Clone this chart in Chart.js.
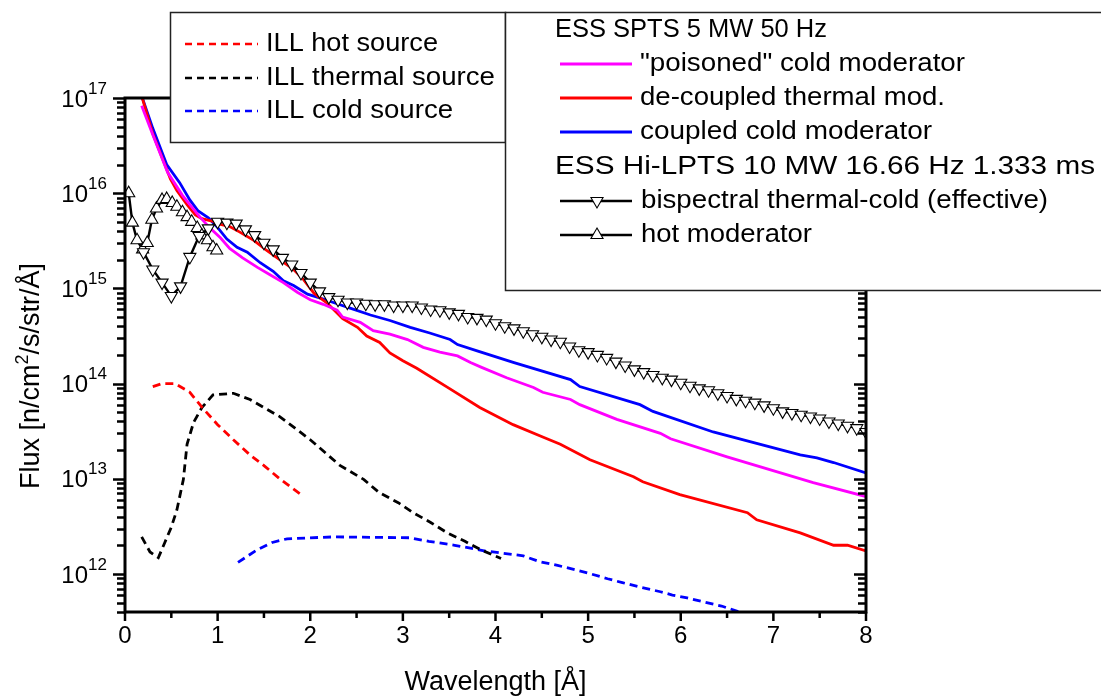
<!DOCTYPE html>
<html><head><meta charset="utf-8">
<script src="https://cdn.jsdelivr.net/npm/chart.js@4.4.1/dist/chart.umd.min.js"></script>
<style>html,body{margin:0;padding:0;background:#fff;}canvas{display:block;}</style>
</head><body>
<canvas id="c" width="1101" height="700"></canvas>
<script>
// ---------------- DATA ----------------
const xTickLabels = [0,1,2,3,4,5,6,7,8];
const yDecades = [12,13,14,15,16,17];

const poisonedX = [0.18,0.30,0.46,0.62,0.72,0.81,0.92,1.03,1.13,1.27,1.43,1.57,1.71,1.86,2.00,2.14,2.29,2.35,2.54,2.68,2.86,3.05,3.22,3.40,3.59,3.73,3.85,4.12,4.41,4.51,4.81,4.91,5.31,5.78,5.89,6.50,7.43,8.00];
const poisonedFlux = [8.3e16,4.1e16,1.66e16,9.5e15,7.2e15,5.6e15,4.27e15,3.4e15,2.63e15,2.09e15,1.66e15,1.38e15,1.15e15,9.1e14,7.6e14,6.8e14,5.9e14,5.0e14,4.4e14,3.6e14,3.3e14,2.9e14,2.4e14,2.14e14,1.95e14,1.66e14,1.48e14,1.15e14,9.1e13,8.1e13,6.8e13,6.0e13,4.2e13,3.0e13,2.63e13,1.7e13,9.1e12,6.5e12];

const decoupledX = [0.18,0.30,0.49,0.56,0.67,0.76,0.83,0.94,1.03,1.13,1.24,1.39,1.53,1.67,1.82,1.93,2.04,2.19,2.35,2.51,2.61,2.75,2.86,3.00,3.15,3.50,3.83,4.19,4.51,4.70,5.02,5.49,5.59,5.99,6.72,6.82,7.29,7.65,7.80,8.00];
const decoupledFlux = [1.05e17,4.2e16,1.41e16,1.07e16,7.6e15,5.9e15,5.4e15,5.1e15,4.7e15,4.47e15,3.9e15,3.2e15,2.5e15,2.0e15,1.58e15,1.23e15,8.9e14,6.9e14,4.8e14,3.9e14,3.16e14,2.7e14,2.1e14,1.74e14,1.45e14,8.9e13,5.6e13,3.7e13,2.75e13,2.3e13,1.58e13,1.05e13,9.3e12,6.8e12,4.4e12,3.7e12,2.7e12,2.0e12,2.0e12,1.74e12];

const coupledX = [0.18,0.30,0.45,0.59,0.70,0.79,0.90,0.99,1.10,1.21,1.32,1.46,1.60,1.71,1.82,1.97,2.11,2.29,2.43,2.65,2.86,3.08,3.29,3.51,3.59,3.81,4.20,4.81,4.91,5.56,5.70,6.35,6.86,7.29,7.47,7.65,8.00];
const coupledFlux = [1.05e17,4.8e16,2.0e16,1.29e16,8.5e15,6.5e15,5.5e15,4.47e15,3.3e15,2.7e15,2.4e15,1.86e15,1.51e15,1.2e15,1.07e15,8.7e14,7.9e14,6.9e14,6.2e14,5.25e14,4.6e14,3.9e14,3.4e14,2.9e14,2.57e14,2.19e14,1.66e14,1.10e14,9.3e13,6.0e13,5.1e13,3.1e13,2.3e13,1.78e13,1.66e13,1.48e13,1.15e13];

const bispectralX = [0.2,0.3,0.4,0.5,0.6,0.7,0.8,0.9,1.0,1.1,1.2,1.3,1.4,1.5,1.6,1.7,1.8,1.9,2.0,2.1,2.2,2.3,2.4,2.5,2.6,2.7,2.8,2.9,3.0,3.1,3.2,3.3,3.4,3.5,3.6,3.7,3.8,3.9,4.0,4.1,4.2,4.3,4.4,4.5,4.6,4.7,4.8,4.9,5.0,5.1,5.2,5.3,5.4,5.5,5.6,5.7,5.8,5.9,6.0,6.1,6.2,6.3,6.4,6.5,6.6,6.7,6.8,6.9,7.0,7.1,7.2,7.3,7.4,7.5,7.6,7.7,7.8,7.9,8.0];
const bispectralFlux = [2.40e15,1.58e15,1.15e15,8.3e14,1.05e15,2.14e15,3.55e15,4.27e15,5.01e15,4.90e15,
 4.79e15,4.17e15,3.63e15,3.02e15,2.57e15,2.09e15,1.78e15,1.45e15,1.15e15,9.3e14,
 8.1e14,7.6e14,7.1e14,7.1e14,6.9e14,6.8e14,6.8e14,6.6e14,6.6e14,6.6e14,
 6.3e14,6.0e14,5.9e14,5.6e14,5.4e14,5.0e14,4.9e14,4.7e14,4.3e14,4.0e14,
 3.8e14,3.55e14,3.3e14,3.1e14,2.9e14,2.75e14,2.45e14,2.24e14,2.14e14,2.0e14,
 1.86e14,1.7e14,1.55e14,1.41e14,1.32e14,1.23e14,1.15e14,1.10e14,1.02e14,9.5e13,
 8.9e13,8.5e13,7.9e13,7.4e13,6.9e13,6.6e13,6.3e13,5.9e13,5.5e13,5.1e13,
 4.9e13,4.7e13,4.5e13,4.3e13,4.0e13,3.8e13,3.6e13,3.4e13,3.1e13];

const hotModX = [0.04,0.08,0.13,0.19,0.24,0.29,0.34,0.40,0.45,0.51,0.56,0.62,0.67,0.72,0.78,0.83,0.89,0.95,0.99];
const hotModFlux = [1.0e16,4.9e15,3.2e15,2.57e15,3.0e15,5.25e15,6.9e15,8.5e15,8.7e15,7.9e15,7.2e15,6.3e15,5.6e15,5.0e15,4.3e15,3.6e15,3.2e15,2.7e15,2.5e15];

const illHotX = [0.30,0.40,0.54,0.70,0.84,1.00,1.17,1.35,1.51,1.67,1.90];
const illHotFlux = [9.3e13,1.0e14,1.0e14,8.1e13,5.5e13,3.7e13,2.57e13,1.78e13,1.35e13,1.0e13,6.8e12];

const illThermalX = [0.18,0.27,0.36,0.43,0.50,0.56,0.63,0.67,0.74,0.83,0.95,1.17,1.35,1.67,2.00,2.32,2.58,2.74,2.95,3.11,3.30,3.48,3.67,3.85,4.06];
const illThermalFlux = [2.45e12,1.7e12,1.48e12,2.14e12,3.1e12,4.7e12,9.8e12,2.3e13,3.9e13,5.6e13,7.6e13,7.9e13,6.8e13,4.5e13,2.57e13,1.38e13,9.8e12,7.2e12,5.6e12,4.4e12,3.47e12,2.7e12,2.2e12,1.78e12,1.45e12];

const illColdX = [1.22,1.42,1.59,1.75,2.25,3.07,3.28,3.56,3.89,4.30,4.47,4.67,5.00,5.21,5.37,5.58,5.78,5.91,6.07,6.28,6.44,6.63];
const illColdFlux = [1.32e12,1.78e12,2.14e12,2.34e12,2.45e12,2.4e12,2.2e12,2.0e12,1.74e12,1.55e12,1.35e12,1.23e12,1.02e12,8.9e11,8.1e11,7.2e11,6.5e11,6.0e11,5.6e11,5.0e11,4.6e11,4.0e11];

// ---------------- CHART ----------------
const FONT = "'Liberation Sans', Arial, sans-serif";
const zip = (xs, ys) => xs.map((x, i) => ({x, y: ys[i]}));

function lineDs(label, xs, ys, color, dash) {
  return { label, data: zip(xs, ys), borderColor: color, borderWidth: 2.8,
    borderDash: dash || [], pointRadius: 0, fill: false, tension: 0 };
}
function markDs(label, xs, ys, rot) {
  return { label, data: zip(xs, ys), borderColor: '#000', borderWidth: 2.4,
    pointStyle: 'triangle', pointRotation: rot, pointRadius: 7,
    pointBackgroundColor: '#fff', pointBorderColor: '#000', pointBorderWidth: 1.1,
    fill: false, tension: 0 };
}

const datasets = [
  markDs('bispectral thermal-cold (effective)', bispectralX, bispectralFlux, 180),
  markDs('hot moderator', hotModX, hotModFlux, 0),
  lineDs('"poisoned" cold moderator', poisonedX, poisonedFlux, '#ff00ff'),
  lineDs('de-coupled thermal mod.', decoupledX, decoupledFlux, '#ff0000'),
  lineDs('coupled cold moderator', coupledX, coupledFlux, '#0000ff'),
  lineDs('ILL hot source', illHotX, illHotFlux, '#ff0000', [8,5]),
  lineDs('ILL thermal source', illThermalX, illThermalFlux, '#000000', [8,5]),
  lineDs('ILL cold source', illColdX, illColdFlux, '#0000ff', [8,5])
];

function drawStretched(ctx, str, x, y, size, width) {
  ctx.font = size + 'px ' + FONT;
  const w = ctx.measureText(str).width;
  ctx.save();
  ctx.translate(x, y);
  ctx.scale(width ? width / w : 1, 1);
  ctx.textAlign = 'left';
  ctx.textBaseline = 'middle';
  ctx.fillStyle = '#000';
  ctx.fillText(str, 0, 0);
  ctx.restore();
}

function triangle(ctx, cx, cy, r, down) {
  ctx.save();
  ctx.translate(cx, cy);
  if (down) ctx.rotate(Math.PI);
  ctx.beginPath();
  ctx.moveTo(0, -r);
  ctx.lineTo(r * 0.866, r * 0.5);
  ctx.lineTo(-r * 0.866, r * 0.5);
  ctx.closePath();
  ctx.fillStyle = '#fff';
  ctx.fill();
  ctx.lineWidth = 1.1;
  ctx.strokeStyle = '#000';
  ctx.stroke();
  ctx.restore();
}

const framePlugin = {
  id: 'frame',
  afterDatasetsDraw(chart) {
    const {ctx, chartArea: a, scales: {x, y}} = chart;
    ctx.save();
    ctx.strokeStyle = '#000';
    ctx.lineWidth = 3;
    ctx.strokeRect(a.left, a.top, a.right - a.left, a.bottom - a.top);
    ctx.lineWidth = 2.5;
    ctx.beginPath();
    xTickLabels.forEach((v, i) => {
      const px = x.getPixelForValue(v);
      ctx.moveTo(px, a.bottom); ctx.lineTo(px, a.bottom + 9);
      if (i < xTickLabels.length - 1) {
        const pm = x.getPixelForValue(v + 0.5);
        ctx.moveTo(pm, a.bottom); ctx.lineTo(pm, a.bottom + 6);
      }
    });
    const decs = [yDecades[0] - 1].concat(yDecades);
    decs.forEach(p => {
      for (let k = 1; k <= 9; k++) {
        const v = k * Math.pow(10, p);
        if (v < y.min * 0.999 || v > y.max * 1.001) continue;
        const py = Math.round(y.getPixelForValue(v)) + 0.5;
        const len = k === 1 ? 12 : 8;
        ctx.moveTo(a.left - len, py); ctx.lineTo(a.left, py);
        ctx.moveTo(a.right - len, py); ctx.lineTo(a.right, py);
      }
    });
    ctx.stroke();
    // y tick labels 10^n
    ctx.fillStyle = '#000';
    yDecades.forEach(p => {
      const py = y.getPixelForValue(Math.pow(10, p));
      ctx.font = '24px ' + FONT;
      ctx.textAlign = 'right';
      ctx.textBaseline = 'middle';
      ctx.fillText('10', a.left - 37, py + 2);
      ctx.font = '17px ' + FONT;
      ctx.textAlign = 'left';
      ctx.fillText(String(p), a.left - 37, py - 9);
    });
    // y axis title with superscript
    ctx.save();
    ctx.translate(32, 376);
    ctx.rotate(-Math.PI / 2);
    ctx.textBaseline = 'middle';
    ctx.textAlign = 'left';
    const p1 = 'Flux [n/cm', p2 = '2', p3 = '/s/str/Å]';
    ctx.font = '27px ' + FONT; const w1 = ctx.measureText(p1).width; const w3 = ctx.measureText(p3).width;
    ctx.font = '18px ' + FONT; const w2 = ctx.measureText(p2).width;
    let sx = -(w1 + w2 + w3) / 2;
    ctx.font = '27px ' + FONT; ctx.fillText(p1, sx, 0); sx += w1;
    ctx.font = '18px ' + FONT; ctx.fillText(p2, sx, -9); sx += w2;
    ctx.font = '27px ' + FONT; ctx.fillText(p3, sx, 0);
    ctx.restore();
    ctx.restore();
  },
  afterDraw(chart) {
    const ctx = chart.ctx;
    ctx.save();
    // box 1
    ctx.fillStyle = '#fff';
    ctx.fillRect(170, 12, 335, 130);
    ctx.strokeStyle = '#222';
    ctx.lineWidth = 1.5;
    ctx.strokeRect(170.5, 12.5, 335, 130);
    // box 2
    ctx.fillStyle = '#fff';
    ctx.fillRect(505, 12, 600, 278);
    ctx.strokeRect(505.5, 12.5, 600, 278);
    // ILL entries
    const ill = [[datasets[5], 44, 172], [datasets[6], 78, 229], [datasets[7], 111, 187]];
    ill.forEach(([ds, yy, tw]) => {
      ctx.save();
      ctx.strokeStyle = ds.borderColor; ctx.lineWidth = 2.5; ctx.setLineDash([7,5]);
      ctx.beginPath(); ctx.moveTo(185, yy); ctx.lineTo(258, yy); ctx.stroke();
      ctx.restore();
      drawStretched(ctx, ds.label, 266, yy, 26, tw);
    });
    // ESS entries
    drawStretched(ctx, 'ESS SPTS 5 MW 50 Hz', 555, 30, 26, 272);
    const ess = [[datasets[2], 64, 325], [datasets[3], 98, 305], [datasets[4], 132, 292]];
    ess.forEach(([ds, yy, tw]) => {
      ctx.save();
      ctx.strokeStyle = ds.borderColor; ctx.lineWidth = 2.8;
      ctx.beginPath(); ctx.moveTo(560, yy); ctx.lineTo(632, yy); ctx.stroke();
      ctx.restore();
      drawStretched(ctx, ds.label, 640, yy, 26, tw);
    });
    drawStretched(ctx, 'ESS Hi-LPTS 10 MW 16.66 Hz 1.333 ms', 555, 167, 26, 540);
    const mk = [[datasets[0], 201, 407, true], [datasets[1], 235, 171, false]];
    mk.forEach(([ds, yy, tw, down]) => {
      ctx.save();
      ctx.strokeStyle = '#000'; ctx.lineWidth = 2.5;
      ctx.beginPath(); ctx.moveTo(560, yy); ctx.lineTo(632, yy); ctx.stroke();
      ctx.restore();
      triangle(ctx, 597, yy, 7, down);
      drawStretched(ctx, ds.label, 641, yy, 26, tw);
    });
    ctx.restore();
  }
};

new Chart(document.getElementById('c'), {
  type: 'line',
  data: { datasets },
  options: {
    responsive: false,
    animation: false,
    devicePixelRatio: 1,
    layout: { padding: { top: 98, right: 235, left: 125, bottom: 0 } },
    plugins: { legend: { display: false }, tooltip: { enabled: false } },
    elements: { line: { borderCapStyle: 'butt' } },
    scales: {
      x: {
        type: 'linear', min: 0, max: 8,
        afterBuildTicks: s => { s.ticks = xTickLabels.map(v => ({value: v})); },
        afterFit: s => { s.height = 88; },
        grid: { display: false, drawTicks: true, tickLength: 8 },
        border: { display: false },
        ticks: { color: '#000', font: { family: FONT, size: 24 }, padding: 2, maxRotation: 0, autoSkip: false },
        title: { display: true, text: 'Wavelength [Å]', color: '#000', font: { family: FONT, size: 27 }, padding: { top: 0, bottom: 1 } }
      },
      y: {
        type: 'logarithmic', min: Math.pow(10, 11.6), max: 1e17,
        display: false
      }
    }
  },
  plugins: [framePlugin]
});
</script>
</body></html>
